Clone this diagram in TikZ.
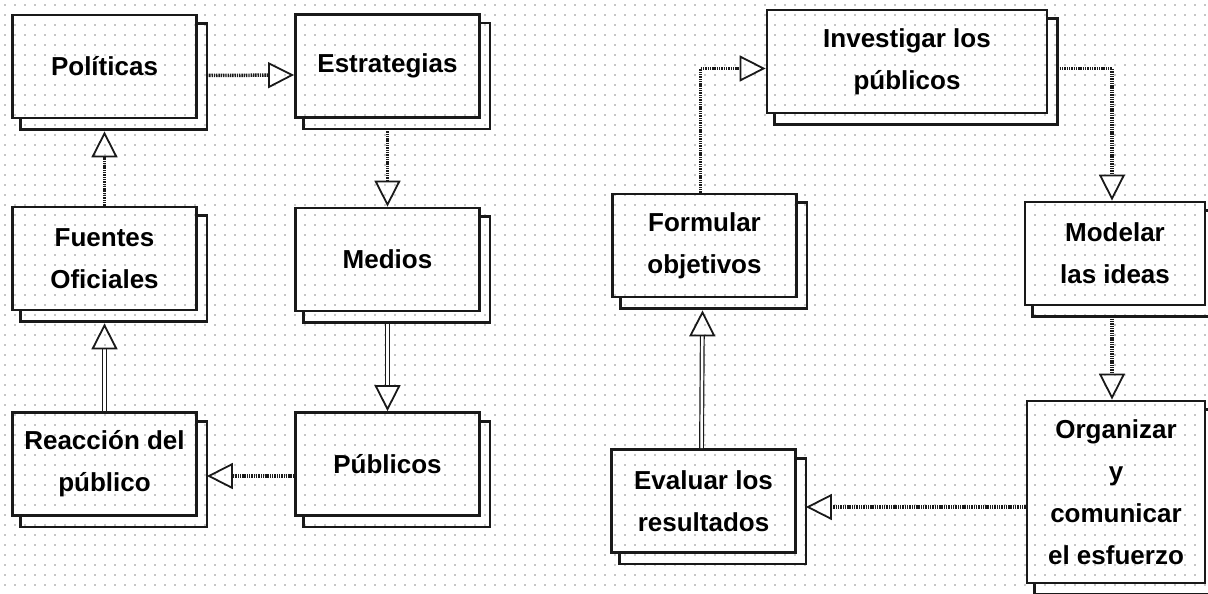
\documentclass[tikz,border=0pt]{standalone}
\usepackage{fontspec}
\setmainfont{Liberation Sans}
\usetikzlibrary{arrows.meta}

\tikzset{
  puntos/.style={gray!45, line width=1.2pt, dash pattern=on 1.2pt off 8.8pt},
  caja/.style={draw=black!90, line width=2.8pt, minimum width=184pt, minimum height=103pt,
    inner sep=2pt, align=center, font=\fontsize{26}{42}\selectfont\bfseries},
  sombra/.style={draw=black!90, line width=2.8pt},
  flecha/.style={-{Triangle[open, length=26pt, width=26pt, line width=1.8pt]}, black!90},
  rayada/.style={flecha, line width=3.5pt, dash pattern=on 1.4pt off 0.9pt},
  doble/.style={flecha, line width=1.2pt, double=white, double distance=2.5pt},
}

\begin{document}
\begin{tikzpicture}[x=1pt, y=-1pt]
				\useasboundingbox (0,0) rectangle (1208,594);
				% fondo de puntos
				\fill[white] (0,0) rectangle (1208,594);
				\foreach \y in {5,15,...,590}
					\draw[puntos] (4.4,\y) -- (1208,\y);
				
				% modelo de la izquierda
				\node[caja] (pol) at (104.5,66.5) {Políticas};
				\node[caja] (est) at (387.5,66) {Estrategias};
				\node[caja] (fue) at (104.5,258.5) {Fuentes\\Oficiales};
				\node[caja] (med) at (387.5,259.5) {Medios};
				\node[caja] (rea) at (104.5,464) {Reacción del\\público};
				\node[caja] (pub) at (387.5,464) {Públicos};
				
				% modelo de la derecha
				\node[caja, minimum width=280pt] (inv) at (907,61.5) {Investigar los\\públicos};
				\node[caja] (for) at (704.5,245.5) {Formular\\objetivos};
				\node[caja, minimum width=180pt] (mod) at (1115,253.5) {Modelar\\las ideas};
				\node[caja, minimum width=178pt, minimum height=182pt] (org) at (1116,492) {Organizar\\y\\comunicar\\el esfuerzo};
				\node[caja] (eva) at (703.5,501) {Evaluar los\\resultados};
				
				% sombras
				\foreach \n in {pol,est,fue,med,rea,pub,inv,for,mod,org,eva}
					\draw[sombra] ([yshift=-10pt]\n.north east) -- ++(9pt,0pt) |- ([xshift=9pt,yshift=-10pt]\n.south west) -- ([xshift=9pt]\n.south west);
				
				% flechas izquierda
				\draw[rayada] ([xshift=9pt,yshift=-9pt]pol.east) -- ([yshift=-9pt]est.west);
				\draw[rayada] ([yshift=-10pt]est.south) -- (med.north);
				\draw[doble] ([yshift=-12pt]med.south) -- (pub.north);
				\draw[rayada] ([yshift=-12pt]pub.west) -- ([xshift=9pt,yshift=-12pt]rea.east);
				\draw[doble] (rea.north) -- ([yshift=-12pt]fue.south);
				\draw[rayada] (fue.north) -- ([yshift=-12pt]pol.south);
				
				% flechas derecha
				\draw[rayada] ([xshift=-4pt]for.north) |- ([yshift=-7pt]inv.west);
				\draw[rayada] ([xshift=9pt,yshift=-7pt]inv.east) -| ([xshift=-3pt]mod.north);
				\draw[rayada] ([xshift=-3pt,yshift=-10pt]mod.south) -- ([xshift=-4pt]org.north);
				\coordinate (evaR) at ([xshift=9pt,yshift=-6pt]eva.east);
				\draw[rayada] (org.west |- evaR) -- (evaR);
				\draw[doble] ([xshift=-2pt]eva.north) -- ([xshift=-2pt,yshift=-12pt]for.south);
\end{tikzpicture}
\end{document}
